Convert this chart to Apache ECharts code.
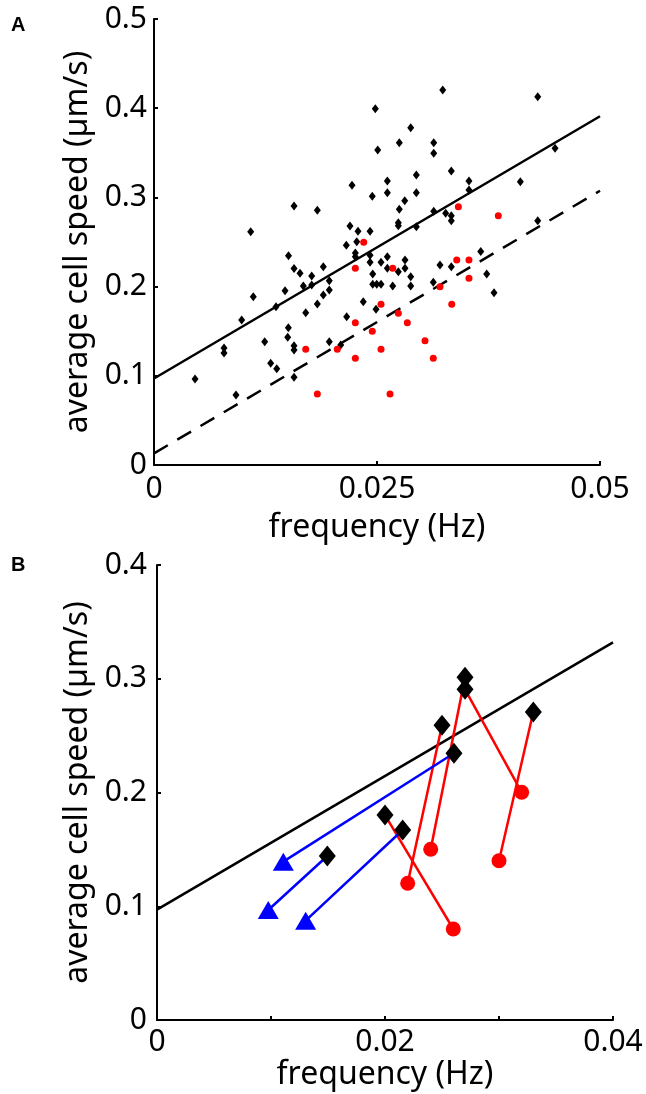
<!DOCTYPE html>
<html>
<head>
<meta charset="utf-8">
<script src="https://cdn.jsdelivr.net/npm/echarts@6/dist/echarts.min.js"></script>
<style>
  html, body { margin: 0; padding: 0; background: #fff; }
  #chart { width: 646px; height: 1094px; }
</style>
</head>
<body>
<div id="chart"></div>
<script>
// ---------- Panel A data ----------
var aBlackX = [0.0046,0.00785,0.00785,0.00919,0.00983,0.01084,0.01113,0.01241,0.01308,0.01368,
  0.01376,0.01469,0.01499,0.01506,0.01508,0.0157,0.0157,0.0157,0.0157,0.0157,
  0.01637,0.01674,0.01701,0.01768,0.01768,0.01831,0.01831,0.01898,0.01898,0.01965,
  0.01965,0.01965,0.02093,0.02156,0.0216,0.02197,0.0222,0.02257,0.02257,0.02273,
  0.02287,0.02346,0.02422,0.02422,0.02422,0.02447,0.02452,0.02452,0.02497,0.02545,
  0.02481,0.02489,0.02508,0.02545,0.02616,0.02616,0.02616,0.02616,0.02676,0.02739,
  0.02739,0.02739,0.0275,0.0275,0.02811,0.02814,0.02814,0.02878,0.02878,0.02878,
  0.02941,0.02941,0.02941,0.03131,0.03136,0.03136,0.03136,0.03206,0.03237,0.0327,
  0.03333,0.03333,0.03333,0.03333,0.03531,0.03531,0.03663,0.0373,0.03812,0.04107,
  0.04302,0.04302,0.04496];
var aBlackY = [0.0964,0.1312,0.1256,0.0785,0.1626,0.2615,0.1887,0.1382,0.114,0.1775,
  0.108,0.1954,0.1432,0.1539,0.2346,0.2904,0.2203,0.1337,0.1289,0.0983,
  0.2149,0.2007,0.1707,0.2119,0.2018,0.2855,0.1805,0.2223,0.1906,0.2066,
  0.1962,0.1382,0.1345,0.2463,0.1663,0.2679,0.3136,0.2377,0.2335,0.2503,
  0.262,0.1831,0.262,0.2351,0.2272,0.3012,0.2141,0.2026,0.2026,0.2026,
  0.3994,0.1746,0.3531,0.2272,0.3184,0.3053,0.2335,0.2205,0.2007,0.2716,
  0.2683,0.2167,0.3613,0.2867,0.2963,0.2298,0.2205,0.3781,0.2111,0.2007,
  0.3251,0.3053,0.2672,0.2048,0.3613,0.3494,0.2844,0.2242,0.4204,0.2822,
  0.3296,0.2795,0.2739,0.2223,0.3184,0.3083,0.2394,0.2141,0.1932,0.3176,
  0.4129,0.2739,0.355];
var aRedX = [0.01701,0.01831,0.02055,0.02257,0.02257,0.02257,0.02351,0.02447,0.02545,0.02545,
  0.02646,0.02676,0.02739,0.0284,0.03038,0.03131,0.03206,0.03338,0.03394,0.03412,
  0.03531,0.03531,0.0386];
var aRedY = [0.1297,0.0796,0.1297,0.2205,0.1595,0.1196,0.2497,0.1499,0.1802,0.1297,
  0.0796,0.2205,0.1701,0.1595,0.1393,0.1196,0.1999,0.1802,0.2298,0.2896,
  0.2298,0.2093,0.2795];
var aFitX = [0, 0.05];
var aFitY = [0.097, 0.391];
var aDashX = [0, 0.05];
var aDashY = [0.013, 0.3075];
var aXTicks = [0, 0.025, 0.05];
var aYTicks = [0, 0.1, 0.2, 0.3, 0.4, 0.5];

// ---------- Panel B data ----------
var bDiamondX = [0.02702,0.02702,0.0250,0.03301,0.0200,0.02605,0.01494,0.02155];
var bDiamondY = [0.3013,0.2907,0.2591,0.2708,0.1802,0.2345,0.1442,0.1670];
// red circles: end points of diamonds 0..4
var bCircleX = [0.02401,0.03199,0.02199,0.0300,0.02599];
var bCircleY = [0.1501,0.2002,0.1202,0.1400,0.0800];
// blue triangles: end points of diamonds 5..7
var bTriangleX = [0.01108,0.00976,0.01304];
var bTriangleY = [0.1392,0.0967,0.0873];
var bRedFrom = [0,1,2,3,4];
var bBlueFrom = [5,6,7];
var bFitX = [0, 0.04];
var bFitY = [0.097, 0.332];
var bXTicks = [0, 0.02, 0.04];
var bYTicks = [0, 0.1, 0.2, 0.3, 0.4];

function zip(xs, ys) { return xs.map(function (x, i) { return [x, ys[i]]; }); }

var FONT = 'Noto Sans';
var tickLabel = { color: '#000', fontSize: 30, fontFamily: FONT };
var axisLineStyle = { show: true, onZero: false, lineStyle: { color: '#000', width: 2 } };
var axisTick = { show: true, inside: true, length: 4, lineStyle: { color: '#000', width: 2 } };
var nameStyle = { color: '#000', fontSize: 32, fontFamily: FONT };

var series = [];
// Panel A
series.push({ type: 'line', xAxisIndex: 0, yAxisIndex: 0, data: zip(aFitX, aFitY), symbol: 'none',
  lineStyle: { color: '#000', width: 2.5 }, z: 3 });
series.push({ type: 'line', xAxisIndex: 0, yAxisIndex: 0, data: zip(aDashX, aDashY), symbol: 'none',
  lineStyle: { color: '#000', width: 2.5, type: [16, 11] }, z: 3 });
series.push({ type: 'scatter', xAxisIndex: 0, yAxisIndex: 0, data: zip(aBlackX, aBlackY),
  symbol: 'diamond', symbolSize: [7, 9], itemStyle: { color: '#000', opacity: 1 }, z: 4 });
series.push({ type: 'scatter', xAxisIndex: 0, yAxisIndex: 0, data: zip(aRedX, aRedY),
  symbol: 'circle', symbolSize: 7, itemStyle: { color: '#ff0000', opacity: 1 }, z: 4 });

// Panel B
series.push({ type: 'line', xAxisIndex: 1, yAxisIndex: 1, data: zip(bFitX, bFitY), symbol: 'none',
  lineStyle: { color: '#000', width: 2.5 }, z: 2 });
bRedFrom.forEach(function (d, i) {
  series.push({ type: 'line', xAxisIndex: 1, yAxisIndex: 1, symbol: 'none',
    data: [[bDiamondX[d], bDiamondY[d]], [bCircleX[i], bCircleY[i]]],
    lineStyle: { color: '#ff0000', width: 2.5 }, z: 3 });
});
bBlueFrom.forEach(function (d, i) {
  series.push({ type: 'line', xAxisIndex: 1, yAxisIndex: 1, symbol: 'none',
    data: [[bDiamondX[d], bDiamondY[d]], [bTriangleX[i], bTriangleY[i]]],
    lineStyle: { color: '#0000ff', width: 2.5 }, z: 3 });
});
series.push({ type: 'scatter', xAxisIndex: 1, yAxisIndex: 1, data: zip(bDiamondX, bDiamondY),
  symbol: 'diamond', symbolSize: [17, 21], itemStyle: { color: '#000', opacity: 1 }, z: 5 });
series.push({ type: 'scatter', xAxisIndex: 1, yAxisIndex: 1, data: zip(bCircleX, bCircleY),
  symbol: 'circle', symbolSize: 15, itemStyle: { color: '#ff0000', opacity: 1 }, z: 5 });
series.push({ type: 'scatter', xAxisIndex: 1, yAxisIndex: 1, data: zip(bTriangleX, bTriangleY),
  symbol: 'triangle', symbolSize: [21, 18], itemStyle: { color: '#0000ff', opacity: 1 }, z: 5 });

function fmt(ticks) {
  return function (v) {
    for (var i = 0; i < ticks.length; i++) {
      if (Math.abs(ticks[i] - v) < 1e-9) return String(ticks[i]);
    }
    return '';
  };
}

var option = {
  animation: false,
  backgroundColor: '#fff',
  graphic: [
    { type: 'text', left: 11, top: 15, style: { text: 'A', fontSize: 20, fontWeight: 'bold', fontFamily: 'Liberation Sans', fill: '#000' } },
    { type: 'text', left: 11, top: 555, style: { text: 'B', fontSize: 20, fontWeight: 'bold', fontFamily: 'Liberation Sans', fill: '#000' } }
  ],
  grid: [
    { left: 154, top: 19, width: 446, height: 446, containLabel: false },
    { left: 157, top: 565, width: 456, height: 455, containLabel: false }
  ],
  xAxis: [
    { type: 'value', gridIndex: 0, min: 0, max: 0.05, interval: 0.025,
      axisLine: axisLineStyle, axisTick: axisTick, splitLine: { show: false },
      axisLabel: Object.assign({ margin: 9, formatter: fmt(aXTicks) }, tickLabel),
      name: 'frequency (Hz)', nameLocation: 'middle', nameGap: 47, nameTextStyle: nameStyle },
    { type: 'value', gridIndex: 1, min: 0, max: 0.04, interval: 0.01,
      axisLine: axisLineStyle, axisTick: axisTick, splitLine: { show: false },
      axisLabel: Object.assign({ margin: 7, formatter: fmt(bXTicks) }, tickLabel),
      name: 'frequency (Hz)', nameLocation: 'middle', nameGap: 39, nameTextStyle: nameStyle }
  ],
  yAxis: [
    { type: 'value', gridIndex: 0, min: 0, max: 0.5, interval: 0.1,
      axisLine: axisLineStyle, axisTick: axisTick, splitLine: { show: false },
      axisLabel: Object.assign({ margin: 7, formatter: fmt(aYTicks) }, tickLabel),
      name: 'average cell speed (\u00b5m/s)', nameLocation: 'middle', nameGap: 56, nameTextStyle: nameStyle },
    { type: 'value', gridIndex: 1, min: 0, max: 0.4, interval: 0.1,
      axisLine: axisLineStyle, axisTick: axisTick, splitLine: { show: false },
      axisLabel: Object.assign({ margin: 10, formatter: fmt(bYTicks) }, tickLabel),
      name: 'average cell speed (\u00b5m/s)', nameLocation: 'middle', nameGap: 59, nameTextStyle: nameStyle }
  ],
  series: series
};

var chart = echarts.init(document.getElementById('chart'), null, { renderer: 'canvas' });
chart.setOption(option);
</script>
</body>
</html>
